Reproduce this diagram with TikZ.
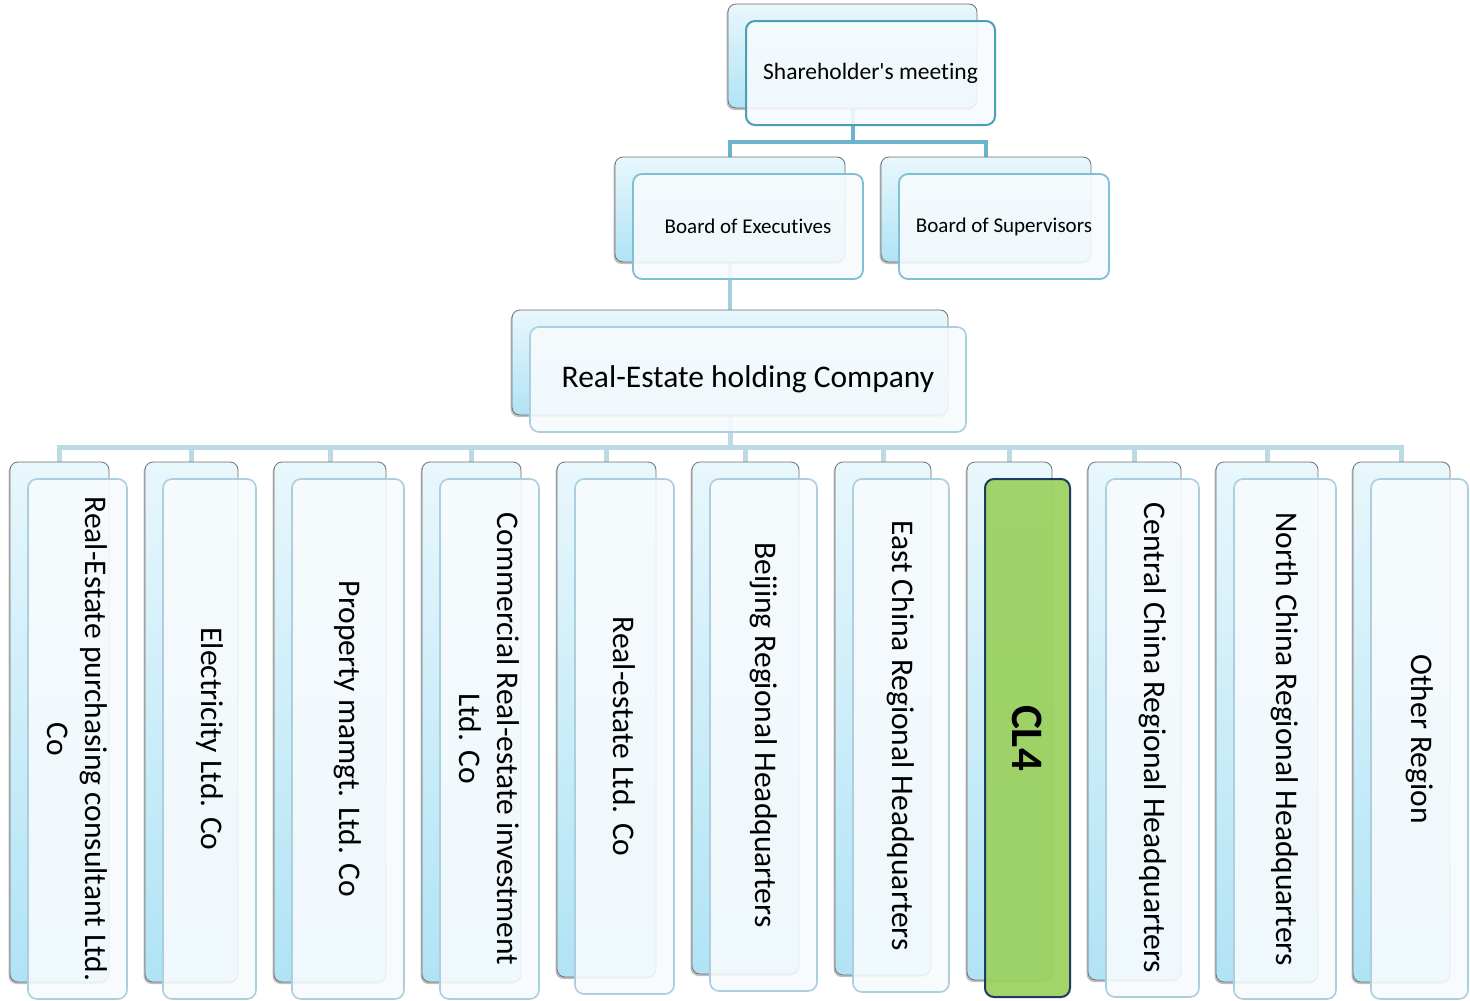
\documentclass[tikz,border=0pt]{standalone}
\usepackage{fontspec}
\setmainfont{Carlito}[Ligatures={NoCommon}]
\usetikzlibrary{shadows}

\definecolor{backtop}{HTML}{E8F7FC}
\definecolor{backbot}{HTML}{B0E3F5}
\definecolor{backline}{HTML}{707070}
\definecolor{frontfill}{HTML}{F8FBFD}
\definecolor{frontline}{HTML}{ABCFDE}
\definecolor{topline}{HTML}{4A9EB6}
\definecolor{boardline}{HTML}{80C0D4}
\definecolor{linkA}{HTML}{6CB4CB}
\definecolor{linkB}{HTML}{A3CEDD}
\definecolor{linkC}{HTML}{BCDAE4}
\definecolor{clgreen}{HTML}{9BD15E}
\definecolor{clnavy}{HTML}{1F3A63}

\pgfdeclarelayer{bg}
\pgfsetlayers{bg,main}

\tikzset{
  backbox/.style={draw=backline, line width=0.8pt, rounded corners=8pt,
    top color=backtop, bottom color=backbot, inner sep=0pt,
    drop shadow={shadow xshift=-1.5pt, shadow yshift=-2pt, opacity=0.5}},
  frontbox/.style={draw=frontline, line width=1.6pt, fill=frontfill,
    fill opacity=0.88, text opacity=1, rounded corners=9pt, inner sep=0pt,
    align=center, font=\fontsize{31.5pt}{37.5pt}\selectfont},
  topfront/.style={frontbox, draw=topline, line width=2pt,
    font=\fontsize{23.5pt}{28pt}\selectfont},
  boardfront/.style={frontbox, draw=boardline, line width=1.8pt,
    font=\fontsize{21pt}{25pt}\selectfont},
  greenfront/.style={frontbox, draw=clnavy, line width=2pt, fill=clgreen,
    fill opacity=0.93, font=\bfseries\fontsize{45pt}{50pt}\selectfont},
  linkone/.style={draw=linkA, line width=4pt},
  linktwo/.style={draw=linkB, line width=4pt},
  linkthree/.style={draw=linkC, line width=5pt},
}

% back card plus front card (shifted 18 right, 17 down); #1 name, #2/#3 centre,
% #4 width, #5 height, #6 front style, #7 label
\newcommand\OrgPair[7]{%
  \node[backbox, minimum width=#4pt, minimum height=#5pt] (#1b) at (#2,#3) {};
  \node[#6, minimum width=#4pt, minimum height=#5pt] (#1)
    at ([shift={(18,17)}]#1b.center) {#7};
}
% same, with the front card turned to read top to bottom
\newcommand\OrgCol[7]{%
  \node[backbox, minimum width=#4pt, minimum height=#5pt] (#1b) at (#2,#3) {};
  \node[#6, rotate=-90, minimum width=#5pt, minimum height=#4pt] (#1)
    at ([shift={(18,17)}]#1b.center) {#7};
}

\begin{document}
\begin{tikzpicture}[x=1pt,y=-1pt]
\useasboundingbox (0,0) rectangle (1470,1001);

\OrgPair{sh}{852.5}{56}{249}{104}{topfront}{Shareholder\textquotesingle s meeting}
\OrgPair{bex}{730}{209.5}{230}{105}{boardfront}{Board of Executives}
\OrgPair{bsu}{986}{209.5}{210}{105}{boardfront}{Board of Supervisors}
\OrgPair{re}{730}{362.5}{436}{105}{frontbox}{Real-Estate holding Company}

\OrgCol{c1}{59.5}{722}{99}{520}{frontbox}{Real-Estate purchasing consultant Ltd.\\Co}
\OrgCol{c2}{191.5}{722}{93}{520}{frontbox}{Electricity Ltd. Co}
\OrgCol{c3}{330}{722}{112}{520}{frontbox}{Property mamgt. Ltd. Co}
\OrgCol{c4}{471.5}{722}{99}{520}{frontbox}{Commercial Real-estate investment\\Ltd. Co}
\OrgCol{c5}{606.5}{719.5}{99}{515}{frontbox}{Real-estate Ltd. Co}
\OrgCol{c6}{745.5}{718}{107}{512}{frontbox}{Beijing Regional Headquarters}
\OrgCol{c7}{883}{718.5}{96}{513}{frontbox}{East China Regional Headquarters}
\OrgCol{c8}{1009.5}{721}{85}{518}{greenfront}{CL4}
\OrgCol{c9}{1134.5}{721}{93}{518}{frontbox}{Central China Regional Headquarters}
\OrgCol{c10}{1267}{722}{102}{520}{frontbox}{North China Regional Headquarters}
\OrgCol{c11}{1401.5}{722}{97}{520}{frontbox}{Other Region}

\coordinate (busone) at (0,142);
\coordinate (busthree) at (0,447);

\begin{pgfonlayer}{bg}
  \fill[white] (0,0) rectangle (1470,1001);
  \draw[linkone] (shb.south) -- (shb.south |- busone) -| (bexb.north);
  \draw[linkone] (shb.south |- busone) -| (bsub.north);
  \draw[linktwo] (bexb.south) -- (reb.north);
  \draw[linkthree] (reb.south) -- (reb.south |- busthree);
  \foreach \cn in {c1,c2,c3,c4,c5,c6,c7,c8,c9,c10,c11}
    \draw[linkthree] (reb.south |- busthree) -| (\cn b.north);
\end{pgfonlayer}
\end{tikzpicture}
\end{document}
